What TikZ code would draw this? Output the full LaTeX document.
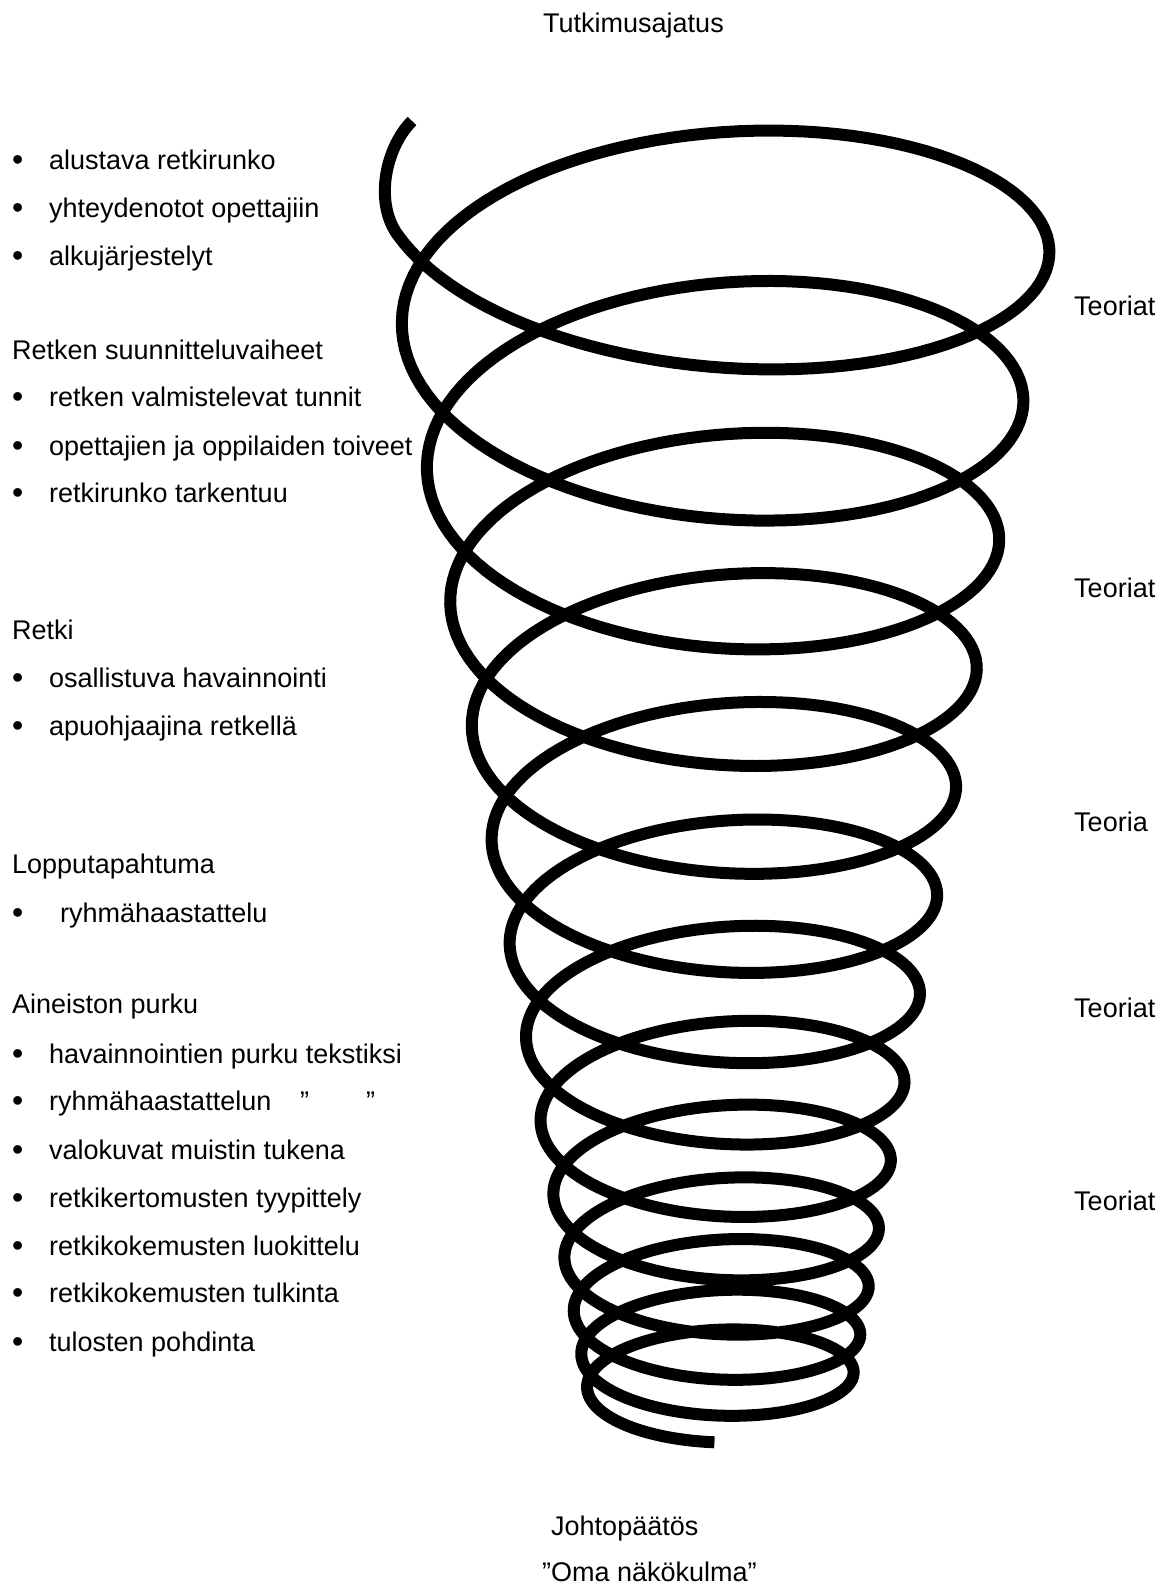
\documentclass[tikz,border=0pt]{standalone}
\usepackage{fontspec}
\setmainfont{Liberation Sans}
\begin{document}
\begin{tikzpicture}[x=1pt,y=-1pt,
  txt/.style={font=\fontsize{27}{32}\selectfont, inner sep=0pt, anchor=base west},
  bul/.style={font=\fontsize{32}{36}\selectfont, inner sep=0pt, anchor=base west},
  spiral/.style={line width=12pt, line join=round, line cap=butt, black},
  declare function={
    hA(\u)=344-13.85*(\u/180)+0.219*(\u/180)^2;
    hB(\u)=min(156,hA(\u)*(0.53-0.006*(\u/180)));
    hY(\u)=172+79.5*(\u/180)-1.26*(\u/180)^2;
    hx(\u)=719-hA(\u)*cos(\u);
    hy(\u)=hY(\u)+hB(\u)*sin(\u);
  }]
\useasboundingbox (0,0) rectangle (1174,1586);
\fill[white] (0,0) rectangle (1174,1586);

% spiral
\coordinate (sstart) at (412,121);
\coordinate (sjoin) at ({hx(20)},{hy(20)});
\draw[spiral] (sstart) .. controls (386,147) and (374,201) .. (sjoin)
  -- plot[domain=20:4768, samples=1600, variable=\u] ({hx(\u)},{hy(\u)});

% top and bottom labels
\node[txt] (top) at (543,33) {Tutkimusajatus};
\node[txt] (concl) at (551,1535) {Johtopäätös};
\node[txt] (view) at (542,1581) {”Oma näkökulma”};

% right labels
\node[txt] (t1) at (1074,316) {Teoriat};
\node[txt] (t2) at (1074,597) {Teoriat};
\node[txt] (t3) at (1074,831) {Teoria};
\node[txt] (t4) at (1074,1017) {Teoriat};
\node[txt] (t5) at (1074,1210) {Teoriat};

% left list
\node[bul] (b1) at (12,171) {•};
\node[txt] (l1) at (49,170) {alustava retkirunko};
\node[bul] (b2) at (12,219) {•};
\node[txt] (l2) at (49,218) {yhteydenotot opettajiin};
\node[bul] (b3) at (12,267) {•};
\node[txt] (l3) at (49,266) {alkujärjestelyt};

\node[txt] (h1) at (12,359) {Retken suunnitteluvaiheet};
\node[bul] (b4) at (12,407) {•};
\node[txt] (l4) at (49,406) {retken valmistelevat tunnit};
\node[bul] (b5) at (12,456) {•};
\node[txt] (l5) at (49,455) {opettajien ja oppilaiden toiveet};
\node[bul] (b6) at (12,503) {•};
\node[txt] (l6) at (49,502) {retkirunko tarkentuu};

\node[txt] (h2) at (12,639) {Retki};
\node[bul] (b7) at (12,688) {•};
\node[txt] (l7) at (49,687) {osallistuva havainnointi};
\node[bul] (b8) at (12,736) {•};
\node[txt] (l8) at (49,735) {apuohjaajina retkellä};

\node[txt] (h3) at (12,873) {Lopputapahtuma};
\node[bul] (b9) at (12,923) {•};
\node[txt] (l9) at (60,922) {ryhmähaastattelu};

\node[txt] (h4) at (12,1013) {Aineiston purku};
\node[bul] (b10) at (12,1064) {•};
\node[txt] (l10) at (49,1063) {havainnointien purku tekstiksi};
\node[bul] (b11) at (12,1111) {•};
\node[txt] (l11) at (49,1110) {ryhmähaastattelun};
\node[txt] (d1) at (300,1110) {”};
\node[txt] (d2) at (366,1110) {”};
\node[bul] (b12) at (12,1160) {•};
\node[txt] (l12) at (49,1159) {valokuvat muistin tukena};
\node[bul] (b13) at (12,1208) {•};
\node[txt] (l13) at (49,1207) {retkikertomusten tyypittely};
\node[bul] (b14) at (12,1256) {•};
\node[txt] (l14) at (49,1255) {retkikokemusten luokittelu};
\node[bul] (b15) at (12,1303) {•};
\node[txt] (l15) at (49,1302) {retkikokemusten tulkinta};
\node[bul] (b16) at (12,1352) {•};
\node[txt] (l16) at (49,1351) {tulosten pohdinta};
\end{tikzpicture}
\end{document}
